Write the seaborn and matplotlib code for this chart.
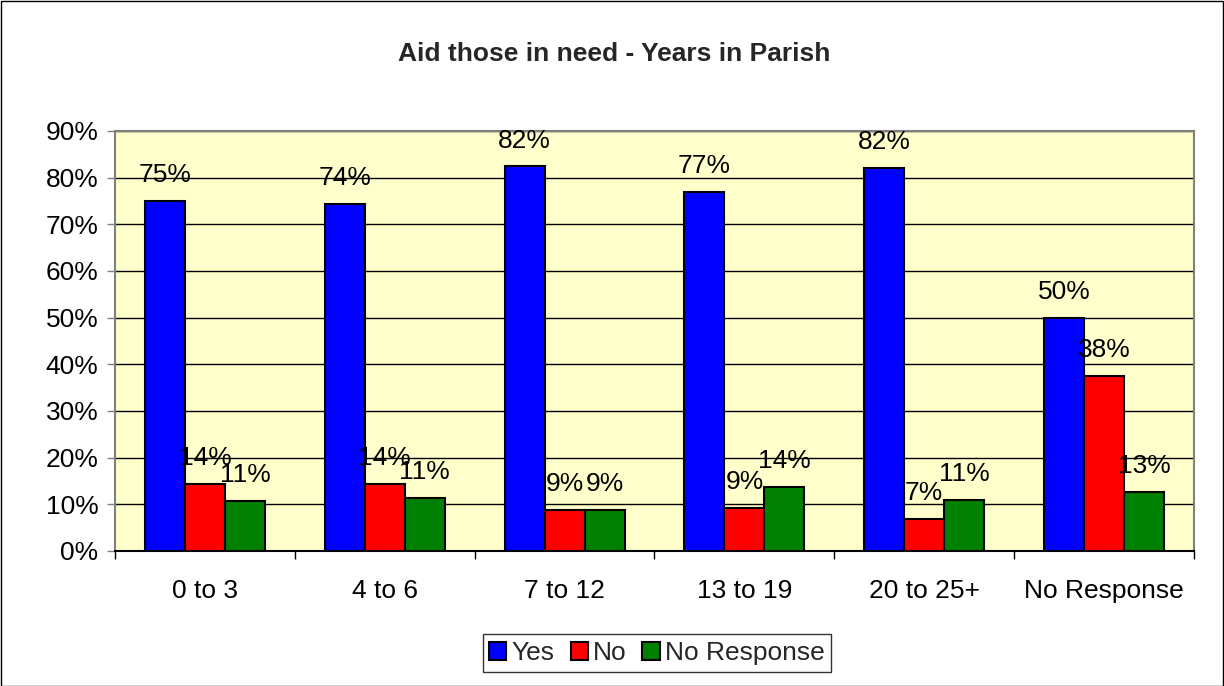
import matplotlib
matplotlib.use("Agg")
import matplotlib.pyplot as plt
import seaborn as sns
import pandas as pd
import numpy as np
from matplotlib.ticker import FixedLocator, PercentFormatter

categories = ["0 to 3", "4 to 6", "7 to 12", "13 to 19", "20 to 25+", "No Response"]
series = ["Yes", "No", "No Response"]
yes_vals = [75.0, 74.3, 82.4, 76.9, 82.1, 50.0]
no_vals = [14.3, 14.3, 8.8, 9.2, 6.9, 37.5]
nr_vals = [10.7, 11.4, 8.8, 13.8, 11.0, 12.6]
colors = ["#0000FF", "#FF0000", "#008000"]

rows = []
for s, vals in zip(series, [yes_vals, no_vals, nr_vals]):
    for c, v in zip(categories, vals):
        rows.append({"Category": c, "Series": s, "Value": v})
df = pd.DataFrame(rows)

sns.set_theme(style="white")
plt.rcParams["font.family"] = ["Liberation Sans", "DejaVu Sans"]

FS = 19

fig = plt.figure(figsize=(12.24, 6.86), dpi=100)
ax = fig.add_axes([115/1224, 1 - 551/686, (1194-115)/1224, (551-131)/686])
ax.set_facecolor("#FFFFCC")

sns.barplot(data=df, x="Category", y="Value", hue="Series", order=categories,
            hue_order=series, palette=colors, width=0.667, edgecolor="black",
            linewidth=1.5, ax=ax, zorder=3, saturation=1)

ax.set_ylim(0, 90)
ax.set_xlim(-0.5, 5.5)
ax.yaxis.set_major_locator(FixedLocator(np.arange(0, 91, 10)))
ax.yaxis.set_major_formatter(PercentFormatter(decimals=0))
ax.grid(axis="y", color="black", linewidth=1, zorder=1)
ax.set_axisbelow(True)
ax.set_xlabel("")
ax.set_ylabel("")

ax.tick_params(axis="y", which="major", direction="out", length=6, width=1,
               color="#808080", labelsize=FS, left=True, pad=6, labelcolor="black")
ax.tick_params(axis="x", which="major", length=0, labelsize=FS, pad=20, labelcolor="black")
ax.xaxis.set_minor_locator(FixedLocator(np.arange(-0.5, 6, 1)))
ax.tick_params(axis="x", which="minor", direction="out", length=6, width=1,
               color="black", bottom=True)

for side in ["top", "right", "left"]:
    ax.spines[side].set_color("#808080")
    ax.spines[side].set_linewidth(1.5)
ax.spines["bottom"].set_color("black")
ax.spines["bottom"].set_linewidth(1.5)

for cont in ax.containers:
    for bar in cont:
        h = bar.get_height()
        ax.annotate(f"{h:.0f}%", (bar.get_x() + bar.get_width()/2, h),
                    xytext=(0, 10), textcoords="offset points",
                    ha="center", va="bottom", fontsize=FS, color="black", zorder=5)

leg = ax.legend(loc="center", bbox_to_anchor=(657/1224, 1 - 653/686),
                bbox_transform=fig.transFigure, ncol=3, fontsize=FS,
                frameon=True, fancybox=False, edgecolor="black",
                handlelength=0.65, handleheight=0.65, handletextpad=0.2,
                columnspacing=0.6, borderpad=0.25, borderaxespad=0)
leg.get_frame().set_linewidth(1)
for h in leg.legend_handles:
    h.set_edgecolor("black")
    h.set_linewidth(1.5)

fig.text(614/1224, 1 - 54/686, "Aid those in need - Years in Parish",
         ha="center", va="center", fontsize=FS, fontweight="bold")

border = plt.Rectangle((0.5/1224, 0.5/686), 1 - 1.5/1224, 1 - 1.5/686,
                       transform=fig.transFigure, fill=False, edgecolor="black",
                       linewidth=1)
fig.patches.append(border)

fig.savefig("out.png", dpi=100, facecolor="white")
